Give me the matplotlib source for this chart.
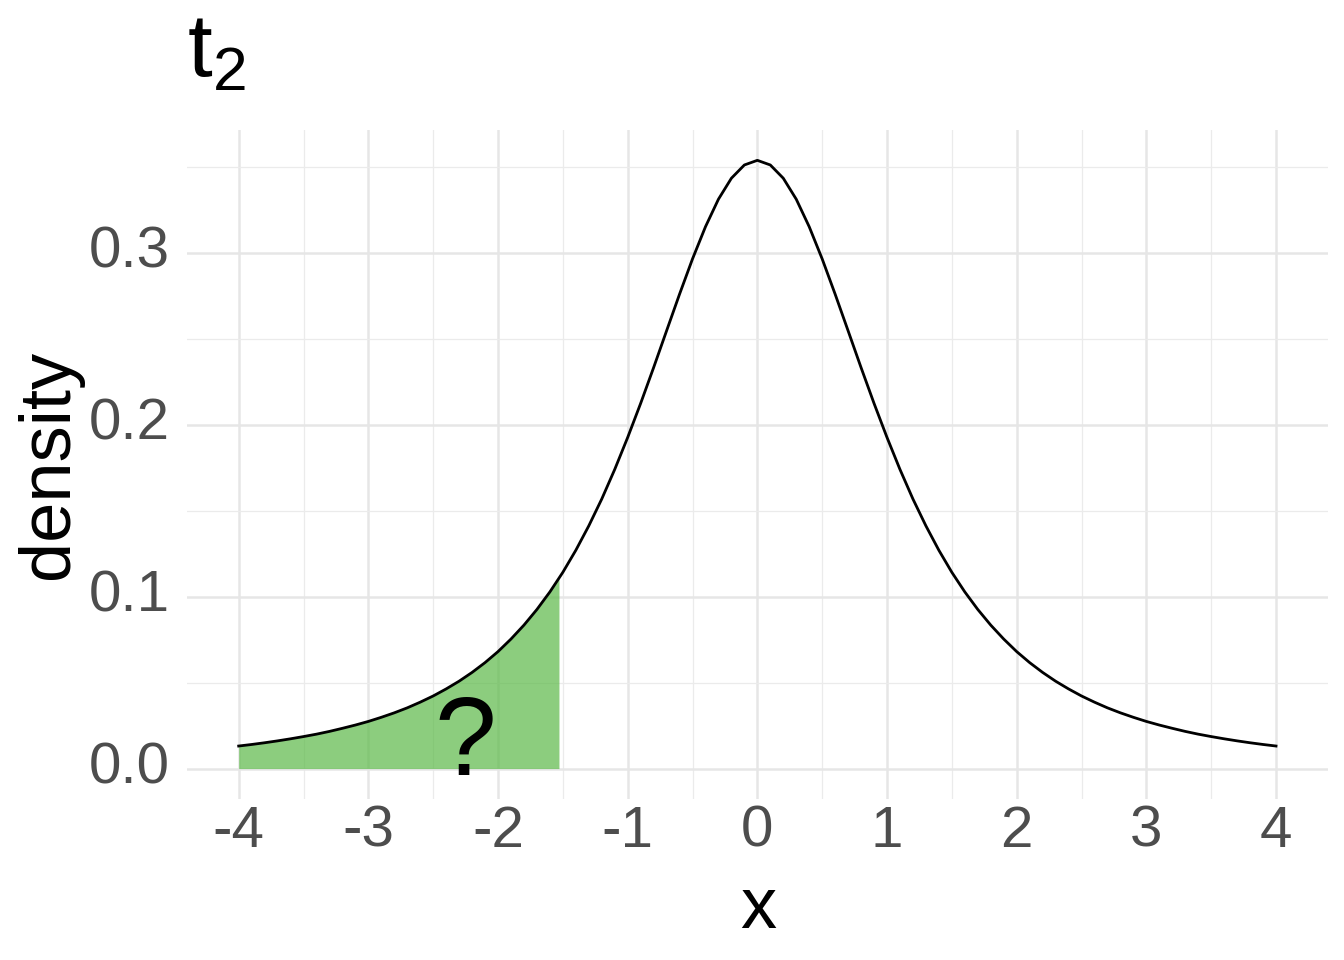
import numpy as np
import matplotlib
matplotlib.use("Agg")
import matplotlib.pyplot as plt

plt.rcParams['font.family'] = ['Liberation Sans', 'DejaVu Sans']
plt.rcParams['mathtext.fontset'] = 'custom'
plt.rcParams['mathtext.rm'] = 'Liberation Sans'
plt.rcParams['mathtext.it'] = 'Liberation Sans'

# density curve (t with 2 df), x from -4 to 4 in 0.1 steps
curve_x = [round(-4.0 + 0.1 * i, 1) for i in range(81)]
right_half = [0.3536, 0.3509, 0.3432, 0.3310, 0.3150, 0.2963, 0.2758, 0.2545, 0.2331, 0.2123,
              0.1925, 0.1739, 0.1567, 0.1411, 0.1269, 0.1141, 0.1027, 0.0925, 0.0834, 0.0753,
              0.0680, 0.0616, 0.0559, 0.0508, 0.0463, 0.0422, 0.0386, 0.0353, 0.0324, 0.0298,
              0.0274, 0.0253, 0.0234, 0.0216, 0.0200, 0.0186, 0.0173, 0.0161, 0.0150, 0.0140,
              0.0131]
curve_y = right_half[:0:-1] + right_half

# shaded lower tail, ends at x = -1.53
tail_end_x = -1.53
tail_end_y = 0.1106
shade_x = [x for x in curve_x if x < tail_end_x] + [tail_end_x]
shade_y = [y for x, y in zip(curve_x, curve_y) if x < tail_end_x] + [tail_end_y]

x_ticks = [-4, -3, -2, -1, 0, 1, 2, 3, 4]
x_labels = ["-4", "-3", "-2", "-1", "0", "1", "2", "3", "4"]
y_ticks = [0.0, 0.1, 0.2, 0.3]
y_labels = ["0.0", "0.1", "0.2", "0.3"]

fig = plt.figure(figsize=(13.44, 9.6), dpi=100)
ax = fig.add_axes([0.139, 0.1677, 0.849, 0.697])

ax.fill_between(shade_x, 0, shade_y, color='#5BB947', alpha=0.7, linewidth=0, zorder=2)
ax.plot(curve_x, curve_y, color='black', linewidth=2.0, zorder=3)
ax.text(-2.25, -0.0035, '?', fontsize=80, ha='center', va='baseline', zorder=4)

ax.set_xlim(-4.4, 4.4)
ax.set_ylim(-0.0177, 0.3713)
ax.set_xticks(x_ticks)
ax.set_xticklabels(x_labels)
ax.set_yticks(y_ticks)
ax.set_yticklabels(y_labels)
ax.set_xticks(np.arange(-3.5, 4, 1.0), minor=True)
ax.set_yticks([0.05, 0.15, 0.25, 0.35], minor=True)

ax.grid(which='major', color='#E6E6E6', linewidth=1.8, zorder=0)
ax.grid(which='minor', color='#EBEBEB', linewidth=0.9, zorder=0)
ax.set_axisbelow(True)
for s in ax.spines.values():
    s.set_visible(False)
ax.tick_params(which='both', length=0)
ax.tick_params(axis='both', labelsize=42, labelcolor='#4D4D4D')
ax.tick_params(axis='x', pad=4)
ax.tick_params(axis='y', pad=12)
for lab in ax.get_yticklabels():
    lab.set_verticalalignment('center')

fig.text(758 / 1344, 1 - 928 / 960, 'x', fontsize=52, ha='center', va='baseline')
fig.text(50 / 1344, 0.516, 'density', fontsize=52, rotation=90, ha='center', va='center')
fig.text(187 / 1344, 1 - 77 / 960, r'$\mathregular{t_2}$', fontsize=64, ha='left', va='baseline')

fig.savefig('out.png', dpi=100)
